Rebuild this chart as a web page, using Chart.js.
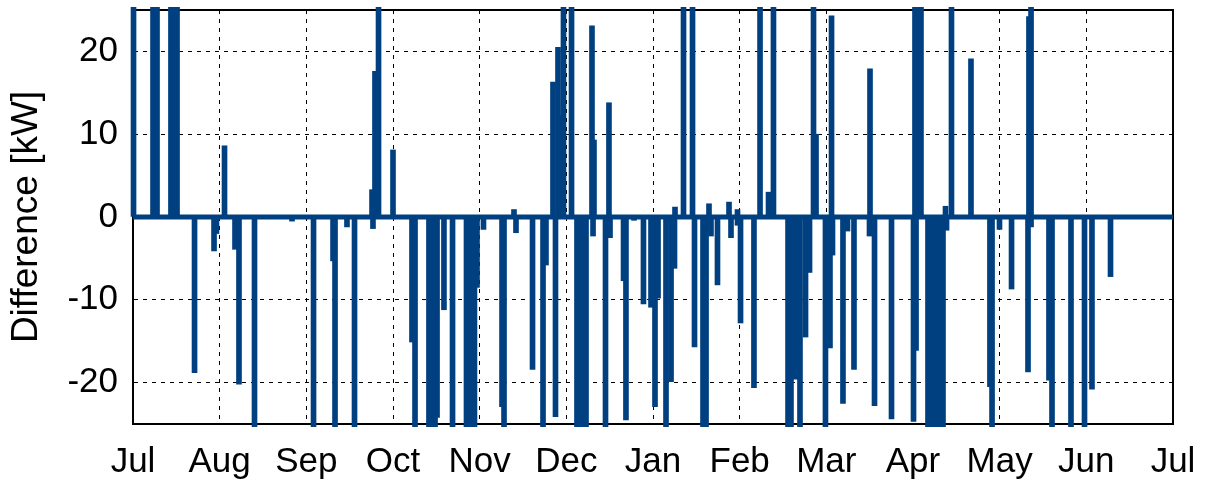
<!DOCTYPE html>
<html><head><meta charset="utf-8">
<script src="https://cdn.jsdelivr.net/npm/chart.js@4/dist/chart.umd.min.js"></script>
<style>html,body{margin:0;padding:0;background:#fff}canvas{display:block}</style>
</head><body>
<canvas id="c" width="1207" height="483"></canvas>
<script>
// x positions are in months since the start of July (0 = Jul, 12 = next Jul)
const monthLabels = ['Jul','Aug','Sep','Oct','Nov','Dec','Jan','Feb','Mar','Apr','May','Jun','Jul'];
const yTickValues = [-20, -10, 0, 10, 20];

// positive differences (values above 25 run off the top of the plot)
const upMonths = [0.006,0.231,0.277,0.438,0.473,0.508,1.056,2.758,2.792,2.833,3.000,4.396,4.846,4.904,4.938,4.967,5.060,5.296,5.319,5.492,6.254,6.352,6.456,6.646,6.877,6.975,7.235,7.333,7.390,7.852,7.881,8.060,8.504,9.023,9.058,9.092,9.375,9.444,9.669,10.338,10.362];
const upValues = [25.4,25.4,25.4,25.4,25.4,25.4,8.6,3.3,17.6,25.4,8.1,0.9,16.3,20.5,12.3,25.4,25.4,23.1,9.3,13.8,1.2,25.4,25.4,1.6,1.8,0.9,25.4,3.0,25.4,25.4,10.0,24.3,17.9,25.4,25.4,25.4,1.3,25.4,19.1,24.2,25.4];

// negative differences (values below -25 run off the bottom of the plot)
const downMonths = [0.710,0.935,0.963,1.177,1.223,1.402,1.835,2.083,2.308,2.331,2.469,2.556,2.769,3.219,3.254,3.415,3.450,3.485,3.508,3.588,3.687,3.848,3.900,3.940,3.969,4.044,4.258,4.281,4.419,4.610,4.731,4.765,4.875,5.123,5.158,5.192,5.227,5.308,5.452,5.504,5.660,5.688,5.781,5.890,5.977,6.023,6.058,6.150,6.208,6.248,6.479,6.577,6.612,6.669,6.744,6.900,6.975,7.010,7.165,7.558,7.592,7.644,7.696,7.760,7.806,7.990,8.042,8.071,8.192,8.244,8.319,8.498,8.556,8.752,9.006,9.035,9.173,9.208,9.242,9.277,9.312,9.346,9.387,9.888,9.912,9.998,10.137,10.327,10.362,10.569,10.604,10.823,10.979,11.065,11.279];
const downValues = [-18.8,-4.1,-2.0,-3.9,-20.2,-25.4,-0.5,-25.4,-5.3,-25.4,-1.2,-25.4,-1.4,-15.1,-25.4,-25.4,-25.4,-25.4,-24.2,-11.2,-25.4,-25.4,-25.4,-25.4,-8.5,-1.5,-22.9,-25.4,-1.9,-18.4,-25.4,-5.8,-24.1,-25.4,-25.4,-25.4,-25.4,-2.3,-25.4,-2.5,-7.7,-24.5,-0.4,-10.5,-10.9,-22.9,-9.8,-25.4,-19.9,-6.2,-15.7,-25.4,-25.4,-2.3,-8.2,-2.5,-1.0,-12.8,-20.6,-25.4,-25.4,-19.6,-25.4,-14.5,-6.7,-25.4,-15.8,-4.6,-22.5,-1.7,-18.4,-2.3,-22.8,-24.4,-24.7,-16.1,-25.4,-25.4,-25.4,-25.4,-25.4,-25.4,-1.6,-20.5,-25.4,-1.5,-8.7,-18.7,-1.2,-19.7,-25.4,-25.4,-25.4,-20.8,-7.2];

// zero line over the whole year
const baselineMonths = [0, 12];
const baselineValues = [0, 0];

const BLUE = '#004080';
const FONT = {family: '"Liberation Sans", Arial, sans-serif', size: 35};
const TITLE_FONT = {family: '"Liberation Sans", Arial, sans-serif', size: 37};
const pts = (xs, ys) => xs.map((x, i) => ({x: x, y: ys[i]}));

new Chart(document.getElementById('c'), {
  type: 'bar',
  data: {
    datasets: [
      {type: 'line', data: pts(baselineMonths, baselineValues), borderColor: BLUE, borderWidth: 5, pointRadius: 0, order: 3},
      {data: pts(upMonths, upValues), backgroundColor: BLUE, barThickness: 5, grouped: false, clip: 3, order: 1},
      {data: pts(downMonths, downValues), backgroundColor: BLUE, barThickness: 5, grouped: false, clip: 3, order: 2}
    ]
  },
  options: {
    responsive: false,
    animation: false,
    devicePixelRatio: 1,
    layout: {padding: {top: 10, right: 34, left: 0, bottom: 0}},
    plugins: {legend: {display: false}, tooltip: {enabled: false}},
    scales: {
      x: {
        type: 'linear', position: 'bottom', min: 0, max: 12, offset: false,
        afterBuildTicks: s => { s.ticks = monthLabels.map((_, i) => ({value: i})); },
        afterFit: s => { s.height = 59; s.paddingLeft = 0; s.paddingRight = 0; },
        ticks: {callback: v => monthLabels[v], font: FONT, color: '#000', padding: 17, maxRotation: 0, autoSkip: false},
        grid: {color: '#000', lineWidth: 1, drawTicks: false, offset: false},
        border: {display: true, color: '#000', width: 2, dash: [4, 5]}
      },
      xTop: {
        type: 'linear', position: 'top', min: 0, max: 12, offset: false,
        ticks: {display: false}, grid: {display: false, drawTicks: false, offset: false},
        border: {display: true, color: '#000', width: 2},
        afterFit: s => { s.height = 0; s.paddingLeft = 0; s.paddingRight = 0; }
      },
      y: {
        type: 'linear', position: 'left', min: -25, max: 25,
        afterBuildTicks: s => { s.ticks = yTickValues.map(v => ({value: v})); },
        afterFit: s => { s.width = 133; s.paddingTop = 0; s.paddingBottom = 0; },
        ticks: {font: FONT, color: '#000', padding: 15},
        grid: {color: '#000', lineWidth: 1, drawTicks: false},
        border: {display: true, color: '#000', width: 2, dash: [4, 5]},
        title: {display: true, text: 'Difference [kW]', font: TITLE_FONT, color: '#000', padding: {top: 5, bottom: 0}}
      },
      yRight: {
        type: 'linear', position: 'right', min: -25, max: 25,
        ticks: {display: false}, grid: {display: false, drawTicks: false},
        border: {display: true, color: '#000', width: 2},
        afterFit: s => { s.width = 0; s.paddingTop = 0; s.paddingBottom = 0; }
      }
    }
  }
});
</script>
</body></html>
